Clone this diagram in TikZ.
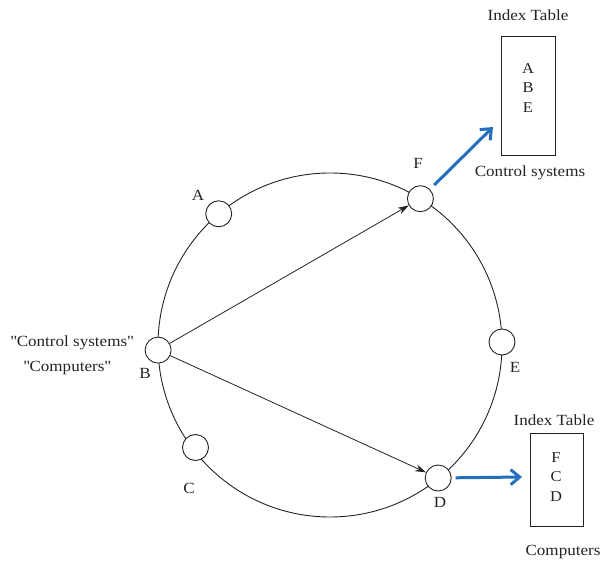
\documentclass[tikz,border=0pt]{standalone}
\usepackage{fontspec}
\setmainfont{Liberation Serif}[FakeStretch=1.1]
\usetikzlibrary{arrows.meta}
\definecolor{arrblue}{RGB}{35,110,190}
\definecolor{ink}{RGB}{35,35,35}
\begin{document}
\begin{tikzpicture}[x=1pt,y=-1pt,
  peer/.style={circle,draw=ink,line width=0.9pt,minimum size=26pt,inner sep=0pt,fill=white},
  lbl/.style={font=\fontsize{15.5}{18}\selectfont,text=ink,inner sep=0pt},
  tablebox/.style={draw=ink,line width=0.9pt,inner sep=0pt},
  entries/.style={font=\fontsize{15}{19.5}\selectfont,text=ink,align=center,inner sep=0pt},
  query/.style={-{Stealth[length=11pt,width=7pt]},draw=ink,line width=0.8pt},
  ptr/.style={-{Straight Barb[length=9pt,width=15pt]},draw=arrblue,line width=3pt}
]
\useasboundingbox (0,0) rectangle (602,561);
% ring
\node[circle,draw=ink,line width=0.9pt,minimum size=344pt,inner sep=0pt] (ring) at (330,345) {};
% peers
\node[peer] (A) at (218.7,213.8) {};
\node[peer] (B) at (158.1,350.1) {};
\node[peer] (C) at (195.5,447.5) {};
\node[peer] (D) at (438.2,478.0) {};
\node[peer] (E) at (502.0,342.0) {};
\node[peer] (F) at (420.4,198.7) {};
% peer labels
\node[lbl] (lA) at (198,195) {A};
\node[lbl] (lB) at (145,373) {B};
\node[lbl] (lC) at (189,488) {C};
\node[lbl] (lD) at (440,502) {D};
\node[lbl] (lE) at (515,367) {E};
\node[lbl] (lF) at (418,163) {F};
% query labels
\node[lbl] (q1) at (72,343) {\textquotedbl Control systems\textquotedbl};
\node[lbl] (q2) at (67,368) {\textquotedbl Computers\textquotedbl};
% query arrows
\draw[query] (B) -- (F);
\draw[query] (B) -- (D);
% index table for F
\node[lbl] (itF) at (528,15) {Index Table};
\node[tablebox,minimum width=54pt,minimum height=119pt] (tabF) at (528,95.5) {};
\node[entries] (eF) at (528,88) {A\\B\\E};
\node[lbl] (kF) at (530,173) {Control systems};
% index table for D
\node[lbl] (itD) at (554,420) {Index Table};
\node[tablebox,minimum width=53pt,minimum height=93pt] (tabD) at (556.5,479.5) {};
\node[entries] (eD) at (556,477) {F\\C\\D};
\node[lbl] (kD) at (563,552) {Computers};
% pointer arrows
\coordinate (tF) at (493,127);
\coordinate (tD) at (522,477);
\draw[ptr,shorten <=6pt] (F) -- (tF);
\draw[ptr,shorten <=4pt] (D) -- (tD);
\end{tikzpicture}
\end{document}
